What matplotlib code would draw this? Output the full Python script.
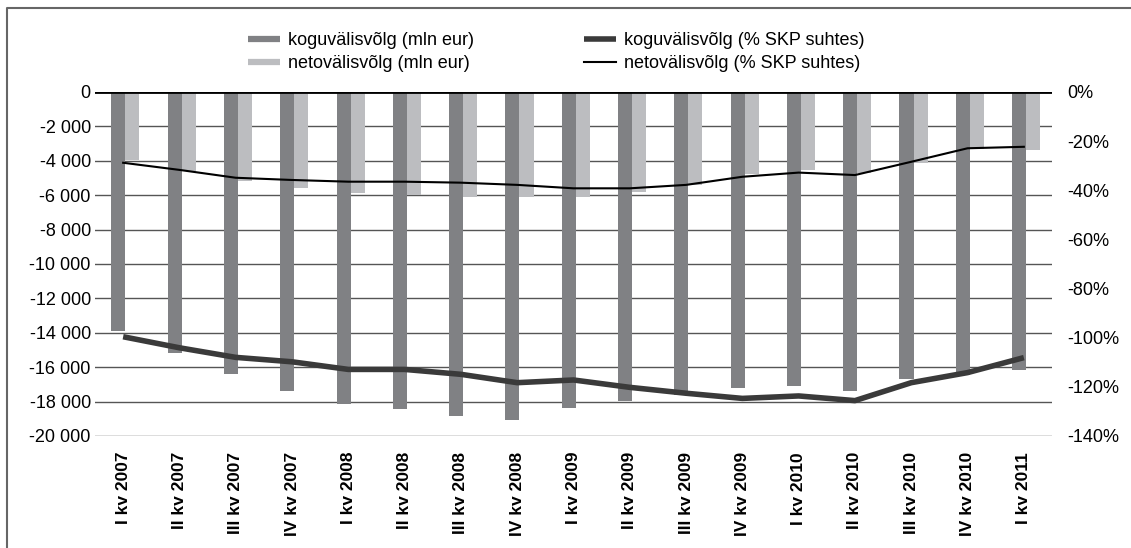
import matplotlib.pyplot as plt
from matplotlib.lines import Line2D
from matplotlib.ticker import FuncFormatter
import numpy as np

plt.rcParams['font.family'] = ['Liberation Sans', 'DejaVu Sans']

quarters = ['I kv 2007', 'II kv 2007', 'III kv 2007', 'IV kv 2007',
            'I kv 2008', 'II kv 2008', 'III kv 2008', 'IV kv 2008',
            'I kv 2009', 'II kv 2009', 'III kv 2009', 'IV kv 2009',
            'I kv 2010', 'II kv 2010', 'III kv 2010', 'IV kv 2010',
            'I kv 2011']

# mln eur
gross_debt = [-13880, -15190, -16380, -17370, -18120, -18410, -18820, -19050,
              -18390, -17950, -17600, -17190, -17070, -17370, -16710, -16450,
              -16180]
net_debt = [-3950, -4600, -5150, -5600, -5850, -5990, -6100, -6120,
            -6120, -5800, -5400, -4770, -4530, -4700, -4110, -3300,
            -3370]

# % of GDP
gross_pct = [-99.6, -104.1, -108.0, -109.8, -112.9, -112.9, -114.9, -118.3,
             -117.2, -120.2, -122.6, -124.7, -123.7, -125.6, -118.3, -114.2,
             -108.1]
net_pct = [-28.8, -31.7, -34.9, -35.8, -36.5, -36.5, -36.9, -37.8,
           -39.2, -39.2, -37.8, -34.5, -32.8, -33.8, -28.4, -22.9,
           -22.3]

dark_bar = '#808184'
light_bar = '#bcbdc0'
thick_line = '#3a3a3a'

fig = plt.figure(figsize=(11.31, 5.48), dpi=100)
ax = fig.add_axes([95 / 1131, 1 - 436 / 548, (1052 - 95) / 1131, (436 - 92) / 548])
ax2 = ax.twinx()

x = np.arange(len(quarters))
w = 0.25
ax.bar(x - w / 2 + 0.04, gross_debt, w, color=dark_bar, zorder=2)
ax.bar(x + w / 2 + 0.04, net_debt, w, color=light_bar, zorder=2)
ax.axhline(0, color='black', lw=2, zorder=3)

ax.set_ylim(-20000, 0)
ax.set_yticks(np.arange(-20000, 1, 2000))
ax.yaxis.set_major_formatter(FuncFormatter(lambda v, p: f'{v:,.0f}'.replace(',', ' ')))
ax.yaxis.grid(True, color='#555555', lw=1)
ax.set_axisbelow(True)
ax.set_xlim(-0.5, len(quarters) - 0.5)
ax.set_xticks(x)
ax.set_xticklabels(quarters, rotation=90, fontweight='bold', fontsize=12.5)

ax2.plot(x, gross_pct, color=thick_line, lw=4, solid_capstyle='butt', zorder=4)
ax2.plot(x, net_pct, color='black', lw=1.5, zorder=5)
ax2.set_ylim(-140, 0)
ax2.set_yticks(np.arange(-140, 1, 20))
ax2.yaxis.set_major_formatter(FuncFormatter(lambda v, p: f'{v:.0f}%'))

for a in (ax, ax2):
    for s in a.spines.values():
        s.set_visible(False)
    a.tick_params(length=0)
ax.tick_params(axis='y', pad=3, labelsize=13)
ax2.tick_params(axis='y', pad=11, labelsize=13)
ax.tick_params(axis='x', pad=11.5)

handles = [Line2D([], [], color=dark_bar, lw=4.5, solid_capstyle='butt'),
           Line2D([], [], color=light_bar, lw=4.5, solid_capstyle='butt'),
           Line2D([], [], color=thick_line, lw=4, solid_capstyle='butt'),
           Line2D([], [], color='black', lw=1.5)]
labels = ['koguvälisvõlg (mln eur)', 'netovälisvõlg (mln eur)',
          'koguvälisvõlg (% SKP suhtes)', 'netovälisvõlg (% SKP suhtes)']
fig.legend(handles, labels, ncol=2, loc='upper left',
           bbox_to_anchor=(248 / 1131, 1 - 32 / 548), frameon=False,
           fontsize=13, borderpad=0, borderaxespad=0, handlelength=1.78,
           handletextpad=0.44, labelspacing=0.33, columnspacing=6.1)

# outer frame (top and left edges visible)
fig.add_artist(Line2D([7 / 1131, 7 / 1131, 1], [0, 1 - 8 / 548, 1 - 8 / 548],
                      transform=fig.transFigure, color='#666666', lw=1.5))

fig.savefig('out.png', dpi=100)
